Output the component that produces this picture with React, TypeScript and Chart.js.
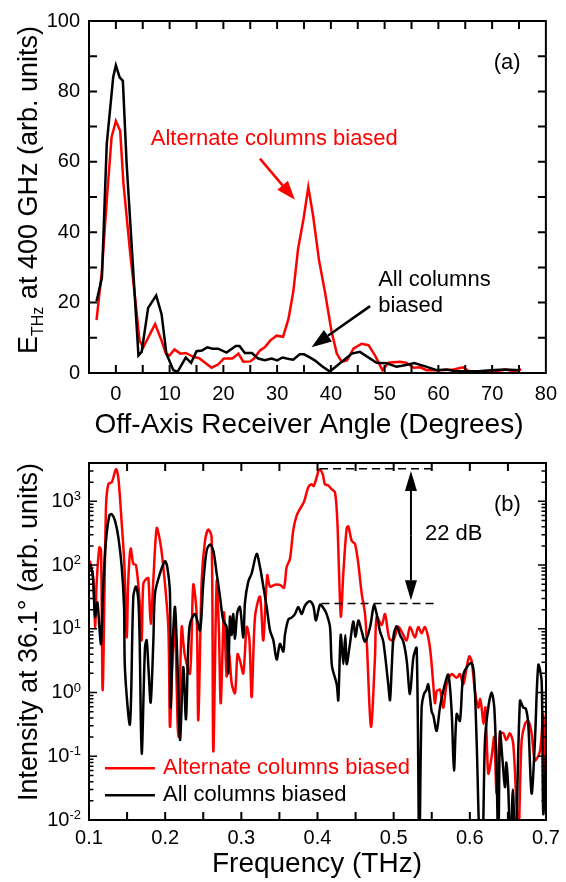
import React, { useEffect, useRef } from 'react';
import { Chart, registerables } from 'chart.js';

Chart.register(...registerables);

const FONT = "'Liberation Sans', Arial, Helvetica, sans-serif";

// ---------- Panel (a): field amplitude vs off-axis angle ----------
const angleAlternate = [-3.6, -2.6, -1.7, -0.8, 0, 0.8, 1.4, 2.6, 3.6, 4.4, 5.1, 6, 7.3, 8.5, 9.3, 10, 10.9, 12, 13, 14.4, 15.5, 16.6, 17.8, 19, 20.1, 21.7, 22.8, 23.7, 25, 25.7, 26.8, 27.7, 28.7, 29.9, 31.1, 32.1, 33, 33.9, 34.9, 35.8, 36.7, 37.8, 38.9, 40.1, 41.1, 42, 43, 44.2, 45.7, 47, 48.2, 49.6, 50.7, 52.8, 54, 55.4, 56.6, 57.8, 60.3, 62.8, 64.6, 65.8, 68.9, 70.8, 72.6, 73.9, 75.4];
const fieldAlternate = [15, 29, 49, 67, 71.6, 68.8, 54, 35, 21, 9.2, 7.3, 10, 13.9, 9.2, 5.5, 5, 6.7, 5.5, 5.7, 4.6, 4.2, 2.9, 1.5, 2.4, 4.1, 4.1, 5.5, 3.2, 3.3, 4.1, 6.4, 7.3, 9.2, 10.6, 10.3, 15.3, 23, 35.3, 43.7, 52.8, 44.6, 32, 23, 12, 5.5, 3.2, 3.6, 6.9, 8.3, 7.9, 5, 0.8, 2.9, 3.2, 2.9, 1.5, 1.6, 0.8, 0.8, 1, 1.6, 0.4, 0.4, 0.5, 1, 0.5, 1];

const angleAll = [-3.6, -2.6, -1.7, -0.5, 0, 0.7, 1.3, 2, 4.2, 4.8, 6, 7.5, 8.5, 9.4, 10.7, 11.5, 13, 14, 15, 16, 17, 18, 19, 20.6, 22.3, 23, 24, 25.3, 26.5, 27.7, 29, 30, 31, 32.2, 33, 34.2, 35, 36, 37, 38.3, 39.8, 43.9, 45.4, 48.5, 50.3, 52.2, 54, 55.5, 57.7, 59.7, 61.5, 63, 64.9, 67.4, 69.8, 72.3, 75.2];
const fieldAll = [20.4, 27, 65, 84, 87.4, 84, 83, 59.5, 5, 6, 18.5, 22, 16.7, 5.5, 0.8, 0.4, 4.4, 2.9, 6.2, 6.4, 7.3, 6.9, 6.9, 5.8, 7.7, 7.7, 5.7, 5.7, 4.1, 3.6, 4.1, 3.6, 4.4, 4, 3.8, 5.3, 5.3, 4.5, 3.6, 2, 0.4, 5.5, 6, 2.9, 2.8, 1.8, 2.3, 2.8, 1.8, 0.8, 1, 0.6, 0.5, 0.5, 0.8, 1, 0.8];

// ---------- Panel (b): intensity spectrum at 36.1 deg ----------
const freqAlternate = [0.1013, 0.1057, 0.108, 0.110, 0.1136, 0.1158, 0.118, 0.1223, 0.1254, 0.130, 0.1354, 0.1385, 0.143, 0.1464, 0.1495, 0.1516, 0.1547, 0.1582, 0.1617, 0.166, 0.1692, 0.1713, 0.1758, 0.178, 0.181, 0.1845, 0.1889, 0.1932, 0.1976, 0.2041, 0.2063, 0.210, 0.2129, 0.2173, 0.2217, 0.2256, 0.2326, 0.2369, 0.2413, 0.2435, 0.248, 0.2523, 0.2566, 0.261, 0.2632, 0.2676, 0.2705, 0.273, 0.2772, 0.2807, 0.284, 0.2873, 0.2917, 0.295, 0.2982, 0.3026, 0.307, 0.3105, 0.3136, 0.318, 0.3245, 0.3288, 0.334, 0.3376, 0.3442, 0.3507, 0.356, 0.3595, 0.3639, 0.3682, 0.3726, 0.377, 0.3822, 0.3879, 0.3923, 0.395, 0.3997, 0.4024, 0.4068, 0.4098, 0.4142, 0.4186, 0.423, 0.426, 0.4286, 0.4308, 0.4339, 0.4383, 0.4405, 0.4449, 0.4492, 0.4536, 0.458, 0.4624, 0.4646, 0.4702, 0.4755, 0.4777, 0.4843, 0.4886, 0.4943, 0.4995, 0.506, 0.5105, 0.517, 0.5214, 0.528, 0.5323, 0.5367, 0.541, 0.5454, 0.5486, 0.552, 0.5542, 0.5565, 0.561, 0.5652, 0.5696, 0.5762, 0.5827, 0.587, 0.5914, 0.5958, 0.5993, 0.6024, 0.6068, 0.6111, 0.6135, 0.6155, 0.618, 0.6205, 0.6242, 0.6286, 0.632, 0.6352, 0.6396, 0.6439, 0.648, 0.6527, 0.657, 0.6614, 0.664, 0.668, 0.6724, 0.6767, 0.6811, 0.6855, 0.6921, 0.6964, 0.7];
const intensityAlternate = [117, 59, 10.7, 52, 190, 170, 1.1, 810, 1870, 2000, 3200, 2350, 445, 105, 7.4, 59, 182, 105, 100, 32, 6.6, 51, 62, 62, 12, 59, 380, 240, 93, 10.7, 0.29, 4.3, 10.7, 0.2, 10.7, 4, 2, 49, 17, 0.37, 59, 240, 360, 275, 0.12, 55, 10, 0.68, 18, 1.8, 4, 1.4, 0.98, 4, 3.2, 2, 10.7, 7, 0.85, 15.5, 32, 6.6, 69, 46, 49, 49, 44, 93, 126, 355, 600, 760, 980, 1660, 1860, 1740, 2570, 3200, 2680, 1860, 1780, 1550, 1380, 500, 59, 15.5, 74, 380, 405, 240, 215, 105, 36, 17, 6.6, 0.29, 3.6, 15.5, 11.5, 17, 7, 6.6, 10.7, 9, 6.6, 10.7, 7.3, 10.7, 8.5, 10.7, 7.3, 4, 1.35, 0.68, 1.05, 1.1, 0.58, 1.35, 1.95, 1.7, 1.95, 1.35, 2.45, 3.7, 3.1, 1.05, 0.58, 0.8, 0.58, 0.32, 0.58, 0.054, 0.098, 0.2, 0.026, 0.23, 0.23, 0.18, 0.23, 0.155, 0.016, 0.006, 0.175, 0.32, 0.36, 0.23, 0.086, 0.12, 0.45, 0.016];

const freqAll = [0.1013, 0.1048, 0.108, 0.111, 0.1136, 0.1158, 0.1188, 0.1223, 0.1267, 0.1298, 0.1341, 0.1385, 0.143, 0.146, 0.1473, 0.1538, 0.1582, 0.1617, 0.1648, 0.1665, 0.1692, 0.1735, 0.1757, 0.178, 0.181, 0.1845, 0.1867, 0.1932, 0.1998, 0.2028, 0.2063, 0.2072, 0.210, 0.2129, 0.216, 0.2195, 0.2238, 0.2273, 0.230, 0.2326, 0.2392, 0.2457, 0.25, 0.2545, 0.2589, 0.2632, 0.2676, 0.272, 0.2763, 0.2807, 0.2829, 0.2851, 0.2873, 0.2894, 0.2917, 0.2947, 0.2982, 0.3026, 0.3048, 0.3091, 0.3136, 0.3201, 0.3245, 0.3289, 0.3333, 0.3376, 0.342, 0.3464, 0.3507, 0.3551, 0.3573, 0.3617, 0.366, 0.3704, 0.3748, 0.3792, 0.3835, 0.3901, 0.3945, 0.398, 0.4033, 0.408, 0.412, 0.4164, 0.419, 0.4252, 0.4273, 0.4305, 0.4339, 0.4365, 0.4383, 0.4426, 0.447, 0.45, 0.4536, 0.458, 0.4624, 0.4689, 0.4742, 0.4777, 0.482, 0.4864, 0.4929, 0.4952, 0.4975, 0.5, 0.504, 0.5083, 0.5127, 0.5171, 0.5214, 0.5258, 0.5302, 0.5336, 0.5367, 0.5398, 0.543, 0.5454, 0.5499, 0.552, 0.5564, 0.5608, 0.566, 0.5717, 0.5761, 0.5792, 0.5827, 0.587, 0.5914, 0.598, 0.6024, 0.6055, 0.6089, 0.6133, 0.6165, 0.6199, 0.6242, 0.6286, 0.6321, 0.6352, 0.6374, 0.6396, 0.6425, 0.6461, 0.648, 0.6505, 0.6535, 0.6565, 0.66, 0.6658, 0.6702, 0.6735, 0.6767, 0.6811, 0.6855, 0.6899, 0.6943, 0.6964, 0.7];
const intensityAll = [100, 74, 15.5, 26, 10.7, 5.8, 51, 240, 600, 630, 500, 275, 93, 22, 2.2, 0.32, 32, 46, 28, 6.5, 0.11, 5.1, 6.6, 2.5, 0.7, 6.5, 36, 74, 115, 93, 36, 0.59, 6.5, 22, 3.2, 0.18, 2.5, 0.38, 4, 12, 17, 9.5, 51, 170, 210, 170, 74, 32, 13.5, 10.7, 2, 15.5, 8, 17, 7, 18, 22, 7.3, 26, 55, 74, 150, 93, 46, 22, 9.5, 6.6, 3.3, 5.8, 4.4, 8.1, 14, 15, 17, 22, 17, 23, 27, 23, 13.5, 24, 21, 17, 10.7, 2.6, 1.35, 0.76, 8, 2.8, 8, 2.8, 5.8, 13, 7.5, 13.5, 9.2, 6.3, 10.5, 23.5, 17, 9.2, 6.3, 1.35, 0.76, 2.5, 8, 11, 8, 6.3, 3.2, 0.95, 3.5, 5, 0.003, 0.59, 0.95, 1.1, 1.35, 0.5, 0.44, 0.25, 0.59, 1.18, 1.9, 0.51, 0.06, 0.46, 0.36, 1.9, 2.7, 2.9, 1.9, 0.18, 0.003, 0.003, 0.18, 0.58, 1.0, 0.58, 0.054, 0.003, 0.24, 0.1, 0.033, 0.08, 0.03, 0.003, 0.03, 0.003, 0.74, 0.58, 0.56, 0.32, 0.026, 0.18, 2.7, 1.5, 0.0126, 0.1];

const intensityTickExponents = [-2, -1, 0, 1, 2, 3];

// annotation anchors (data coordinates)
const peakLevel = 3250;     // upper dashed line
const baseLevel = 25;       // lower dashed line
const dashedRange = [0.4033, 0.5543];

const zip = (xs: number[], ys: number[]) => xs.map((x, i) => ({ x, y: ys[i] }));

function drawArrow(ctx: CanvasRenderingContext2D, x1: number, y1: number, x2: number, y2: number, headLen: number, headHalf: number, color: string, lw: number) {
  const ang = Math.atan2(y2 - y1, x2 - x1);
  const bx = x2 - headLen * Math.cos(ang);
  const by = y2 - headLen * Math.sin(ang);
  ctx.strokeStyle = color;
  ctx.fillStyle = color;
  ctx.lineWidth = lw;
  ctx.beginPath();
  ctx.moveTo(x1, y1);
  ctx.lineTo(bx, by);
  ctx.stroke();
  ctx.beginPath();
  ctx.moveTo(x2, y2);
  ctx.lineTo(bx + headHalf * Math.sin(ang), by - headHalf * Math.cos(ang));
  ctx.lineTo(bx - headHalf * Math.sin(ang), by + headHalf * Math.cos(ang));
  ctx.closePath();
  ctx.fill();
}

function drawFrame(ctx: CanvasRenderingContext2D, ca: any) {
  ctx.strokeStyle = '#000';
  ctx.lineWidth = 2;
  ctx.strokeRect(ca.left, ca.top, ca.right - ca.left, ca.bottom - ca.top);
}

function rotatedTitle(ctx: CanvasRenderingContext2D, cx: number, cy: number, parts: { t: string; size: number; dy: number }[]) {
  ctx.save();
  ctx.translate(cx, cy);
  ctx.rotate(-Math.PI / 2);
  ctx.fillStyle = '#000';
  ctx.textBaseline = 'alphabetic';
  ctx.textAlign = 'left';
  let total = 0;
  const widths = parts.map((p) => {
    ctx.font = `${p.size}px ${FONT}`;
    const w = ctx.measureText(p.t).width;
    total += w;
    return w;
  });
  let x = -total / 2;
  parts.forEach((p, i) => {
    ctx.font = `${p.size}px ${FONT}`;
    ctx.fillText(p.t, x, p.dy);
    x += widths[i];
  });
  ctx.restore();
}

const panelAPlugin = {
  id: 'panelA',
  afterDraw(chart: any) {
    const { ctx, chartArea: ca, scales } = chart;
    const x = scales.x;
    const y = scales.y;
    ctx.save();
    drawFrame(ctx, ca);
    ctx.lineWidth = 2;
    ctx.beginPath();
    for (let v = 0; v < 80; v += 5) {
      const px = x.getPixelForValue(v);
      ctx.moveTo(px, ca.bottom); ctx.lineTo(px, ca.bottom - 8);
      ctx.moveTo(px, ca.top); ctx.lineTo(px, ca.top + 8);
    }
    for (let v = 10; v < 100; v += 10) {
      const py = y.getPixelForValue(v);
      ctx.moveTo(ca.left, py); ctx.lineTo(ca.left + 8, py);
      ctx.moveTo(ca.right, py); ctx.lineTo(ca.right - 8, py);
    }
    ctx.stroke();

    // titles
    ctx.fillStyle = '#000';
    ctx.font = `28px ${FONT}`;
    ctx.textAlign = 'center';
    ctx.textBaseline = 'alphabetic';
    ctx.fillText('Off-Axis Receiver Angle (Degrees)', 309, 433);
    rotatedTitle(ctx, 37, 190, [
      { t: 'E', size: 27, dy: 0 },
      { t: 'THz', size: 16, dy: 6 },
      { t: ' at 400 GHz (arb. units)', size: 27, dy: 0 },
    ]);

    // annotations
    ctx.font = `22px ${FONT}`;
    ctx.textAlign = 'left';
    ctx.textBaseline = 'middle';
    ctx.fillStyle = '#000';
    ctx.fillText('(a)', x.getPixelForValue(70.3), y.getPixelForValue(88));
    ctx.fillStyle = '#ff0000';
    ctx.fillText('Alternate columns biased', x.getPixelForValue(6.5), y.getPixelForValue(66.5));
    ctx.fillStyle = '#000';
    ctx.fillText('All columns', x.getPixelForValue(48.8), y.getPixelForValue(26.5));
    ctx.fillText('biased', x.getPixelForValue(48.8), y.getPixelForValue(19));

    drawArrow(ctx, x.getPixelForValue(26.8), y.getPixelForValue(60.9), x.getPixelForValue(33.3), y.getPixelForValue(49.2), 19, 7, '#ff0000', 2.5);
    drawArrow(ctx, x.getPixelForValue(47.3), y.getPixelForValue(19), x.getPixelForValue(36.4), y.getPixelForValue(7.35), 20, 7, '#000', 2.5);
    ctx.restore();
  },
};

const panelBPlugin = {
  id: 'panelB',
  afterDraw(chart: any) {
    const { ctx, chartArea: ca, scales } = chart;
    const x = scales.x;
    const y = scales.y;
    ctx.save();
    drawFrame(ctx, ca);
    ctx.lineWidth = 2;
    ctx.beginPath();
    for (let v = 0.15; v < 0.7; v += 0.05) {
      const px = x.getPixelForValue(v);
      ctx.moveTo(px, ca.bottom); ctx.lineTo(px, ca.bottom - 8);
      ctx.moveTo(px, ca.top); ctx.lineTo(px, ca.top + 8);
    }
    ctx.stroke();
    ctx.lineWidth = 1.5;
    ctx.beginPath();
    for (let e = -2; e <= 3; e++) {
      for (let m = 1; m <= 9; m++) {
        const v = m * Math.pow(10, e);
        if (v <= 0.01 || v >= 4000) continue;
        const len = m === 1 ? 8 : 4.5;
        const py = y.getPixelForValue(v);
        ctx.moveTo(ca.left, py); ctx.lineTo(ca.left + len, py);
        ctx.moveTo(ca.right, py); ctx.lineTo(ca.right - len, py);
      }
    }
    ctx.stroke();

    // log tick labels with superscripts
    ctx.fillStyle = '#000';
    intensityTickExponents.forEach((e) => {
      const py = y.getPixelForValue(Math.pow(10, e));
      const sup = String(e);
      ctx.font = `13px ${FONT}`;
      const sw = ctx.measureText(sup).width;
      const right = 81;
      ctx.textAlign = 'left';
      ctx.textBaseline = 'alphabetic';
      ctx.fillText(sup, right - sw, py - 1);
      ctx.font = `20px ${FONT}`;
      ctx.textAlign = 'right';
      ctx.textBaseline = 'middle';
      ctx.fillText('10', right - sw, py);
    });

    // titles
    ctx.font = `28px ${FONT}`;
    ctx.textAlign = 'center';
    ctx.textBaseline = 'alphabetic';
    ctx.fillText('Frequency (THz)', 317, 431);
    rotatedTitle(ctx, 37, 191, [{ t: 'Intensity at 36.1\u00b0 (arb. units)', size: 27, dy: 0 }]);

    // dashed reference lines
    ctx.strokeStyle = '#000';
    ctx.lineWidth = 1.5;
    ctx.setLineDash([8, 5]);
    ctx.beginPath();
    ctx.moveTo(x.getPixelForValue(dashedRange[0]), y.getPixelForValue(peakLevel));
    ctx.lineTo(x.getPixelForValue(dashedRange[1]), y.getPixelForValue(peakLevel));
    ctx.moveTo(x.getPixelForValue(dashedRange[0] + 0.002), y.getPixelForValue(baseLevel));
    ctx.lineTo(x.getPixelForValue(dashedRange[1]), y.getPixelForValue(baseLevel));
    ctx.stroke();
    ctx.setLineDash([]);

    // double arrow
    const ax = x.getPixelForValue(0.5227);
    const yTop = y.getPixelForValue(3000);
    const yBot = y.getPixelForValue(28);
    const yMid = (yTop + yBot) / 2;
    drawArrow(ctx, ax, yMid, ax, yTop, 20, 6, '#000', 2);
    drawArrow(ctx, ax, yMid, ax, yBot, 20, 6, '#000', 2);

    ctx.font = `22px ${FONT}`;
    ctx.textAlign = 'left';
    ctx.textBaseline = 'middle';
    ctx.fillStyle = '#000';
    ctx.fillText('22 dB', x.getPixelForValue(0.541), y.getPixelForValue(304));
    ctx.fillText('(b)', x.getPixelForValue(0.6317), y.getPixelForValue(865));

    // legend
    const legendRows = [
      { label: 'Alternate columns biased', color: '#ff0000', level: 0.065 },
      { label: 'All columns biased', color: '#000000', level: 0.0245 },
    ];
    legendRows.forEach((r) => {
      const py = y.getPixelForValue(r.level);
      ctx.strokeStyle = r.color;
      ctx.lineWidth = 2.5;
      ctx.beginPath();
      ctx.moveTo(x.getPixelForValue(0.121), py);
      ctx.lineTo(x.getPixelForValue(0.1866), py);
      ctx.stroke();
      ctx.fillStyle = r.color;
      ctx.fillText(r.label, x.getPixelForValue(0.1971), py);
    });
    ctx.restore();
  },
};

const tickFont = { family: FONT, size: 20 };

export default function App() {
  const refA = useRef<HTMLCanvasElement>(null);
  const refB = useRef<HTMLCanvasElement>(null);

  useEffect(() => {
    Chart.defaults.font.family = FONT;
    const chartA = new Chart(refA.current as HTMLCanvasElement, {
      type: 'line',
      data: {
        datasets: [
          { label: 'All columns biased', data: zip(angleAll, fieldAll), borderColor: '#000000', borderWidth: 2.5, pointRadius: 0, tension: 0, fill: false },
          { label: 'Alternate columns biased', data: zip(angleAlternate, fieldAlternate), borderColor: '#ff0000', borderWidth: 2.5, pointRadius: 0, tension: 0, fill: false },
        ],
      },
      options: {
        responsive: false,
        animation: false,
        devicePixelRatio: 1,
        layout: { padding: { left: 0, right: 20, top: 15, bottom: 0 } },
        plugins: { legend: { display: false }, tooltip: { enabled: false } },
        scales: {
          x: {
            type: 'linear', min: -5, max: 80,
            afterFit: (s: any) => { s.height = 68; },
            grid: { display: false, drawTicks: false },
            border: { display: false },
            ticks: { stepSize: 10, includeBounds: false, padding: 9, font: tickFont, color: '#000', maxRotation: 0, autoSkip: false },
          },
          y: {
            type: 'linear', min: 0, max: 100,
            afterFit: (s: any) => { s.width = 89; },
            grid: { display: false, drawTicks: false },
            border: { display: false },
            ticks: { stepSize: 20, padding: 9, font: tickFont, color: '#000', autoSkip: false },
          },
        },
      } as any,
      plugins: [panelAPlugin],
    });

    const chartB = new Chart(refB.current as HTMLCanvasElement, {
      type: 'line',
      data: {
        datasets: [
          { label: 'All columns biased', data: zip(freqAll, intensityAll), borderColor: '#000000', borderWidth: 2.5, pointRadius: 0, tension: 0.3, fill: false },
          { label: 'Alternate columns biased', data: zip(freqAlternate, intensityAlternate), borderColor: '#ff0000', borderWidth: 2.5, pointRadius: 0, tension: 0.3, fill: false },
        ],
      },
      options: {
        responsive: false,
        animation: false,
        devicePixelRatio: 1,
        layout: { padding: { left: 0, right: 20, top: 22, bottom: 0 } },
        plugins: { legend: { display: false }, tooltip: { enabled: false } },
        scales: {
          x: {
            type: 'linear', min: 0.1, max: 0.7,
            afterFit: (s: any) => { s.height = 62; },
            grid: { display: false, drawTicks: false },
            border: { display: false },
            ticks: { stepSize: 0.1, padding: 6, font: tickFont, color: '#000', maxRotation: 0, autoSkip: false, callback: (v: any) => Number(v).toFixed(1) },
          },
          y: {
            type: 'logarithmic', min: 0.01, max: 4000,
            afterFit: (s: any) => { s.width = 89; },
            grid: { display: false, drawTicks: false },
            border: { display: false },
            ticks: { display: false },
          },
        },
      } as any,
      plugins: [panelBPlugin],
    });

    return () => {
      chartA.destroy();
      chartB.destroy();
    };
  }, []);

  return (
    <div style={{ position: 'absolute', left: 0, top: 0, width: 566, height: 882, background: '#ffffff' }}>
      <canvas ref={refA} width={566} height={441} style={{ position: 'absolute', left: 0, top: 0, width: 566, height: 441 }} />
      <canvas ref={refB} width={566} height={441} style={{ position: 'absolute', left: 0, top: 441, width: 566, height: 441 }} />
    </div>
  );
}
